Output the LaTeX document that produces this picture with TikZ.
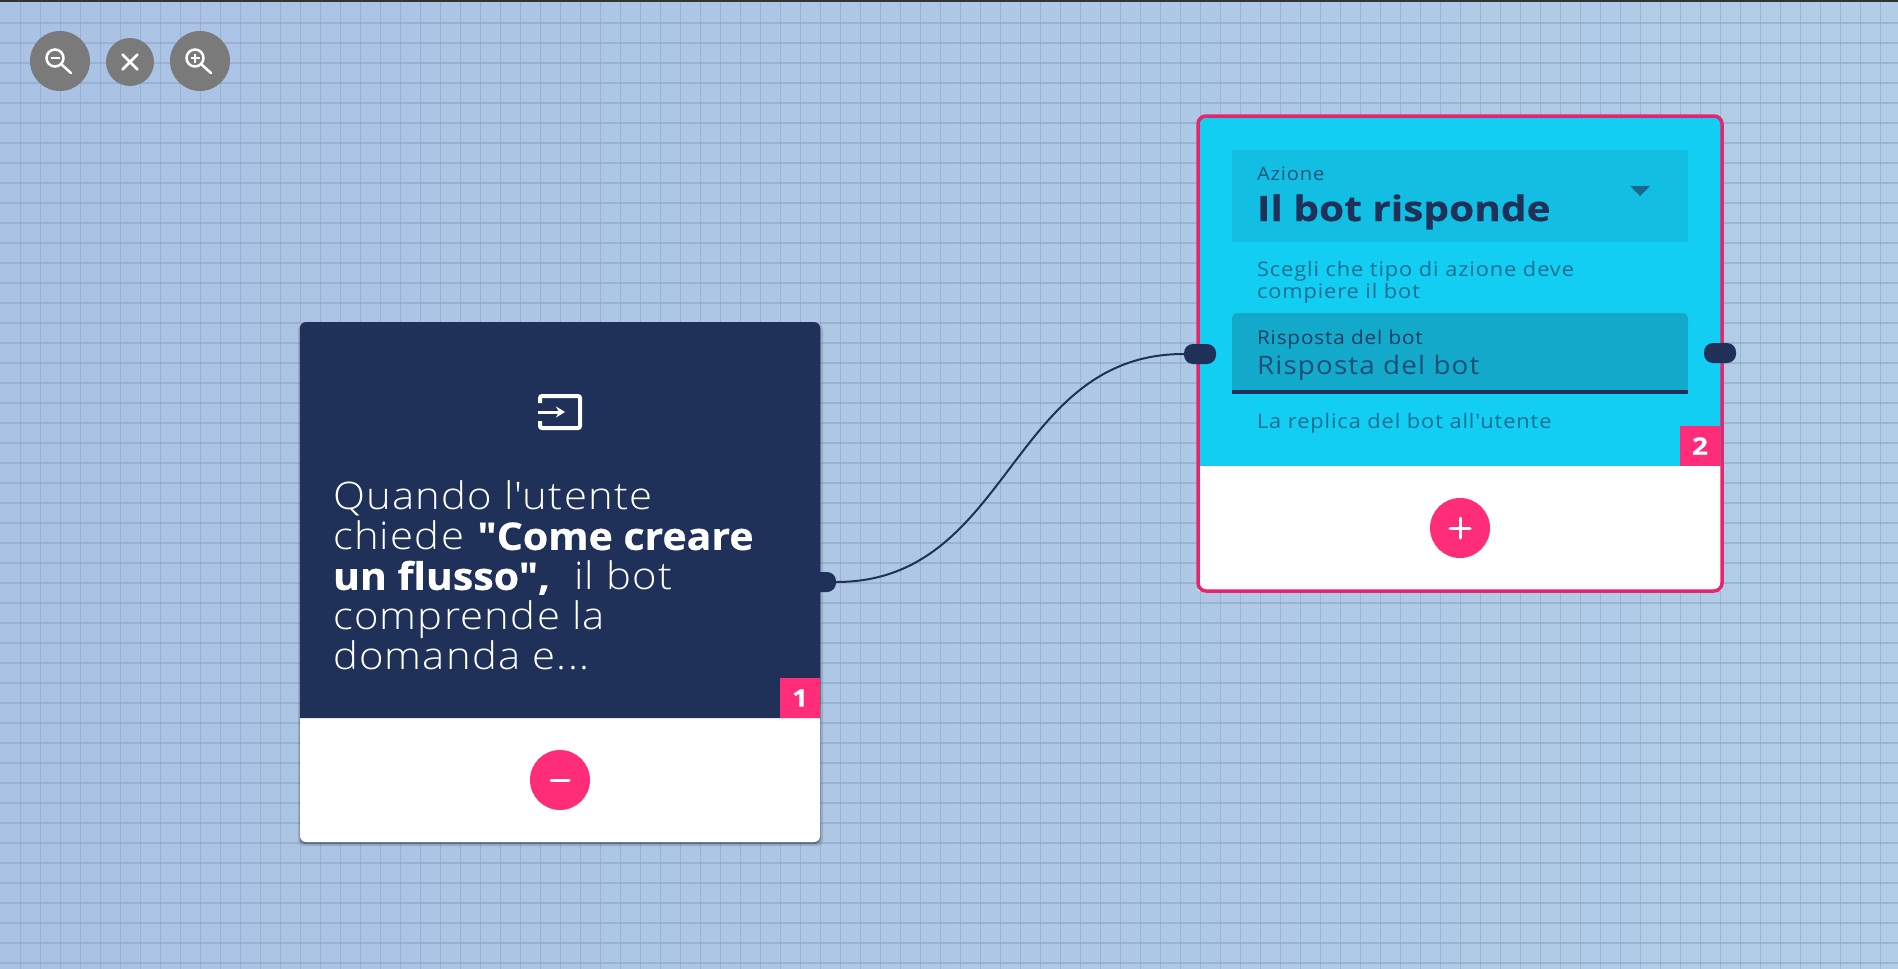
\documentclass[tikz,border=0pt]{standalone}
\usepackage{fontspec}
\newfontfamily\cardfont{Open Sans}[UprightFont=* Light,BoldFont=* Bold,FakeStretch=1.1,LetterSpace=3.3,BoldFeatures={LetterSpace=0,FakeStretch=1.08,FakeBold=.6}]
\newfontfamily\smallfont{Open Sans}[FakeStretch=1.09,LetterSpace=4.5]
\newfontfamily\headfont{Open Sans}[UprightFont=* Bold,FakeStretch=1.16,FakeBold=.6]
\usetikzlibrary{arrows.meta}

\definecolor{navy}{HTML}{1F3059}
\definecolor{pinkb}{HTML}{FF2D78}
\definecolor{pinkl}{HTML}{E7246E}
\definecolor{cyanb}{HTML}{12CEF3}
\definecolor{cyanm}{HTML}{12BFE3}
\definecolor{cyand}{HTML}{13A9CB}
\definecolor{greyb}{HTML}{7A7A7A}
\definecolor{gridl}{HTML}{8FA6C6}
\definecolor{bgl}{HTML}{AAC2E4}
\definecolor{bgr}{HTML}{B1CDE7}

\tikzset{
  lbl/.style={anchor=base west,inner sep=0,outer sep=0},
  zoombtn/.style={circle,fill=greyb,inner sep=0,minimum size=60},
  addbtn/.style={circle,fill=pinkb,inner sep=0,minimum size=60},
  badge/.style={fill=pinkb,text=white,inner sep=0,minimum size=40,font=\headfont\fontsize{24}{24}\selectfont},
  port/.style={rectangle,rounded corners=9,fill=navy,inner sep=0,minimum width=32,minimum height=20},
  glyph/.style={white,line width=3,line cap=round},
}

\begin{document}
\begin{tikzpicture}[x=1pt,y=-1pt]
\useasboundingbox (0,0) rectangle (1898,969);

\shade[left color=bgl,right color=bgr] (0,0) rectangle (1898,970);

\foreach \x in {20,40,...,1880} {
  \draw[gridl,line width=1.2,opacity=.6] (\x.5,0) -- (\x.5,970);
}
\foreach \y in {23,43,...,963} {
  \draw[gridl,line width=1.2,opacity=.6] (0,\y) -- (1898,\y);
}
\fill[black!60!gray] (0,0) rectangle (1898,1.5);

% zoom buttons
\node[zoombtn] (zm) at (60,61) {};
\node[zoombtn,minimum size=48] (zx) at (130,62) {};
\node[zoombtn] (zp) at (200,61) {};

\draw[white,line width=2.5] (55,58) circle (8.5);
\draw[white,line width=2.5,line cap=round] (61.5,64.5) -- (71,73);
\draw[white,line width=1.5] (50.5,58) -- (59.5,58);
\draw[white,line width=2.5,line cap=round] (zx.center) ++(-7.5,-7.5) -- ++(15,15) ++(0,-15) -- ++(-15,15);
\draw[white,line width=2.5] (195,58) circle (8.5);
\draw[white,line width=2.5,line cap=round] (201.5,64.5) -- (211,73);
\draw[white,line width=1.5] (190.5,58) -- (199.5,58) (195,53.5) -- (195,62.5);

% first card
\fill[black,opacity=.12,rounded corners=6] (298,324) rectangle (823,846);
\fill[black,opacity=.3,rounded corners=6] (299.5,324) rectangle (820.5,844);
\node[port] (pa) at (820,582) {};
\fill[white,rounded corners=6] (300,700) rectangle (820,842);
\fill[navy] (300,718) [rounded corners=6] -- (300,322) -- (820,322) [sharp corners] -- (820,718) -- cycle;

\draw[white,line width=4,rounded corners=2] (540,403) -- (540,396) -- (580,396) -- (580,428) -- (540,428) -- (540,421);
\draw[white,line width=3,-{Stealth[length=9,width=11]}] (538,412) -- (565,412);

\node[lbl,anchor=north west,text=white,align=left,font=\cardfont\fontsize{38}{40}\selectfont] (qu) at (333,481) {Quando l'utente\\chiede \textbf{"Come creare}\\\textbf{un flusso",}\ \ il bot\\comprende la\\domanda e...};

\node[badge] (ba) at (800,698) {1};
\node[addbtn] (mi) at (560,780) {};
\draw[glyph] (mi.center) ++(-9,0) -- ++(18,0);

% second card
\fill[white] (1198,460) rectangle (1722,591);
\fill[cyanb,rounded corners=6] (1198,116) rectangle (1722,470);
\fill[white] (1198,466) rectangle (1722,480);
\draw[pinkl,line width=3.5,rounded corners=8] (1198,116) rectangle (1722,591);

\fill[cyanm] (1232,150) rectangle (1688,242);
\fill[cyand,rounded corners=5] (1232,313) rectangle (1688,330);
\fill[cyand] (1232,320) rectangle (1688,391);
\fill[navy] (1232,390) rectangle (1688,394);
\fill[cyand!45!navy] (1630,186) -- (1650,186) -- (1640,196) -- cycle;

\node[lbl,text=navy!75!cyanm,font=\smallfont\fontsize{18.5}{22}\selectfont] (az) at (1257,180) {Azione};
\node[lbl,text=navy,font=\headfont\fontsize{35}{40}\selectfont] (ri) at (1257,221) {Il bot risponde};
\node[lbl,text=navy!50!cyand,font=\smallfont\fontsize{20}{22}\selectfont] (sa) at (1257,276) {Scegli che tipo di azione deve};
\node[lbl,text=navy!50!cyand,font=\smallfont\fontsize{20}{22}\selectfont] (sb) at (1257,298) {compiere il bot};
\node[lbl,text=navy!90!cyand,font=\smallfont\fontsize{19}{22}\selectfont] (ra) at (1257,344) {Risposta del bot};
\node[lbl,text=navy!75!cyand,font=\smallfont\fontsize{25.5}{28}\selectfont] (rb) at (1257,374) {Risposta del bot};
\node[lbl,text=navy!50!cyand,font=\smallfont\fontsize{20}{22}\selectfont] (re) at (1257,428) {La replica del bot all'utente};

\node[badge] (bb) at (1700,446) {2};
\node[addbtn] (pl) at (1460,528) {};
\draw[glyph] (pl.center) ++(-10,0) -- ++(20,0) ++(-10,-10) -- ++(0,20);

\node[port] (pb) at (1200,354) {};
\node[port] (pc) at (1720,353) {};

\draw[navy,line width=2] (pa.east) .. controls +(175,0) and +(-175,0) .. (pb.west);
\end{tikzpicture}
\end{document}
